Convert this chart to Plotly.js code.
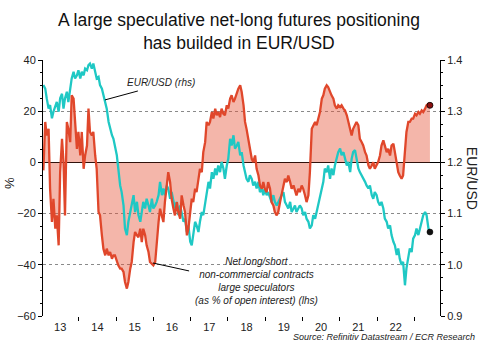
<!DOCTYPE html>
<html><head><meta charset="utf-8">
<script src="https://cdn.plot.ly/plotly-3.0.1.min.js"></script>
<style>html,body{margin:0;padding:0;background:#fff}#chart{width:490px;height:357px}</style>
</head><body><div id="chart"></div>
<script>
// Dates as decimal years (roughly every 2-3 weeks)
const dates = [
2013.05,2013.10,2013.14,2013.19,2013.23,2013.28,2013.32,2013.37,2013.41,2013.46,2013.50,2013.55,2013.59,2013.63,2013.68,2013.72,2013.77,2013.81,2013.86,2013.90,2013.95,2013.99,2014.04,2014.08,2014.13,2014.17,2014.22,2014.26,2014.30,2014.35,2014.39,2014.44,2014.48,2014.53,2014.57,2014.62,2014.66,2014.71,2014.75,2014.80,2014.84,2014.89,2014.93,2014.97,2015.02,2015.06,2015.11,2015.15,2015.20,2015.24,2015.29,2015.33,2015.38,2015.42,2015.47,
2015.51,2015.56,2015.60,2015.65,2015.69,2015.73,2015.78,2015.82,2015.87,2015.91,2015.96,2016.00,2016.05,2016.09,2016.14,2016.18,2016.23,2016.27,2016.31,2016.36,2016.40,2016.45,2016.49,2016.54,2016.58,2016.63,2016.67,2016.72,2016.76,2016.81,2016.85,2016.90,2016.94,2016.99,2017.03,2017.07,2017.12,2017.16,2017.21,2017.25,2017.30,2017.34,2017.39,2017.43,2017.48,2017.52,2017.57,2017.61,2017.66,2017.70,2017.74,2017.79,2017.83,2017.88,2017.92,2017.97,2018.01,
2018.06,2018.10,2018.15,2018.19,2018.24,2018.28,2018.33,2018.37,2018.42,2018.46,2018.50,2018.55,2018.59,2018.64,2018.68,2018.73,2018.77,2018.82,2018.86,2018.91,2018.95,2018.99,2019.04,2019.08,2019.13,2019.17,2019.22,2019.26,2019.31,2019.35,2019.40,2019.44,2019.49,2019.53,2019.58,2019.62,2019.67,2019.71,2019.76,2019.80,2019.84,2019.89,2019.93,2019.98,2020.02,2020.07,2020.11,2020.16,2020.20,2020.25,2020.29,2020.34,2020.38,2020.43,2020.47,2020.52,2020.56,
2020.60,2020.65,2020.69,2020.74,2020.78,2020.83,2020.87,2020.92,2020.96,2021.01,2021.05,2021.10,2021.14,2021.19,2021.23,2021.28,2021.32,2021.36,2021.41,2021.45,2021.50,2021.54,2021.59,2021.63,2021.68,2021.72,2021.77,2021.81,2021.86,2021.90,2021.94,2021.99,2022.03,2022.08,2022.12,2022.17,2022.21,2022.26,2022.30,2022.35,2022.39,2022.44,2022.48,2022.53,2022.57,2022.61,2022.66,2022.70,2022.75,2022.79,2022.84,2022.88,2022.93,2022.97,2023.02,2023.06,2023.11,2023.15,2023.20,2023.24,2023.29,2023.33,2023.38,2023.42
];
// Net long/short non-commercial contracts, % of open interest (lhs)
const netLong = [
-3.1,15.8,10.5,13.1,-10.3,-23.3,-14.2,-25.9,-20.7,-32.4,-3.8,9.2,0.1,-20.7,15.8,13.1,7.9,26.2,24.9,15.8,5.3,11.9,2.7,11.9,-2.5,2.7,6.6,21.0,11.9,10.5,11.9,2.7,-2.5,-19.4,-20.7,-28.5,-33.7,-36.3,-33.7,-36.3,-35.0,-37.6,-36.3,-36.3,-38.9,-40.2,-41.5,-41.5,-42.8,-46.7,-49.3,-46.7,-41.5,-38.9,-31.1,
-27.2,-28.5,-29.2,-25.9,-31.1,-25.9,-28.5,-32.4,-35.0,-38.9,-39.6,-40.2,-38.9,-31.1,-23.3,-18.1,-20.7,-23.3,-15.5,-9.0,-3.8,-7.7,-14.2,-18.1,-20.7,-15.5,-19.4,-22.0,-12.9,-16.8,-19.4,-28.5,-25.9,-19.4,-14.2,-15.5,-10.3,-11.6,-5.1,-2.5,-3.8,4.0,7.9,15.8,14.5,15.8,19.7,17.1,21.0,18.4,19.7,17.7,21.0,19.0,18.4,22.3,21.0,
24.9,26.2,23.6,24.9,27.5,28.8,30.1,27.5,22.3,15.8,13.1,9.2,5.3,1.4,0.1,2.7,-2.5,-5.1,-9.0,-10.3,-7.7,-10.3,-11.6,-7.7,-10.3,-15.5,-16.8,-19.4,-20.7,-19.4,-15.5,-12.9,-9.0,-6.4,-7.7,-5.1,-7.7,-10.3,-9.0,-11.6,-12.9,-10.3,-11.6,-9.0,-10.3,-12.9,-15.5,-12.9,-3.8,13.1,14.5,15.8,14.5,17.1,19.7,24.9,26.2,
28.8,30.1,29.4,27.5,26.2,24.9,22.3,21.0,22.3,21.6,22.3,21.0,20.3,18.4,15.8,11.9,10.5,13.1,14.5,15.8,14.5,9.2,7.9,6.6,4.0,2.7,-1.2,-2.5,-1.2,0.1,-2.5,-1.2,0.1,2.7,6.6,8.6,6.6,4.0,5.3,2.7,6.6,7.3,4.0,-1.2,-3.8,-5.1,-6.4,-5.1,4.0,11.9,15.8,15.8,17.1,17.1,19.0,18.4,19.7,19.0,20.3,19.7,21.0,22.3,22.9,22.3
];
// EUR/USD (rhs)
const eurusd = [
1.351,1.344,1.325,1.305,1.312,1.286,1.299,1.312,1.318,1.299,1.325,1.334,1.305,1.325,1.338,1.318,1.344,1.364,1.377,1.364,1.370,1.380,1.364,1.377,1.370,1.383,1.380,1.390,1.393,1.383,1.393,1.377,1.364,1.367,1.351,1.344,1.331,1.318,1.305,1.279,1.266,1.253,1.246,1.233,1.214,1.188,1.155,1.142,1.116,1.071,1.058,1.084,1.103,1.123,1.136,
1.103,1.123,1.097,1.084,1.103,1.123,1.110,1.129,1.116,1.103,1.129,1.110,1.116,1.123,1.136,1.162,1.136,1.149,1.136,1.155,1.149,1.129,1.142,1.123,1.110,1.123,1.097,1.116,1.103,1.084,1.090,1.064,1.077,1.045,1.038,1.058,1.084,1.077,1.064,1.084,1.103,1.097,1.123,1.136,1.162,1.149,1.181,1.168,1.188,1.175,1.194,1.181,1.201,1.188,1.168,1.194,1.207,
1.246,1.233,1.253,1.227,1.233,1.240,1.214,1.220,1.194,1.181,1.168,1.162,1.175,1.168,1.155,1.162,1.149,1.162,1.142,1.149,1.136,1.149,1.136,1.142,1.129,1.123,1.136,1.123,1.116,1.123,1.129,1.136,1.142,1.123,1.116,1.110,1.123,1.103,1.110,1.116,1.103,1.110,1.116,1.110,1.097,1.103,1.090,1.084,1.071,1.077,1.097,1.090,1.103,1.123,1.136,1.149,1.162,
1.188,1.181,1.194,1.168,1.188,1.175,1.194,1.207,1.220,1.227,1.214,1.220,1.207,1.194,1.201,1.181,1.207,1.220,1.224,1.207,1.188,1.181,1.175,1.168,1.162,1.155,1.149,1.155,1.136,1.129,1.142,1.136,1.123,1.116,1.123,1.110,1.090,1.084,1.071,1.077,1.058,1.045,1.038,1.019,1.032,1.012,1.000,1.006,0.960,0.993,1.019,1.032,1.025,1.051,1.058,1.071,1.058,1.071,1.084,1.097,1.103,1.097,1.071,1.064
];
const yearLabelVals = [2013.5,2014.5,2015.5,2016.5,2017.5,2018.5,2019.5,2020.5,2021.5,2022.5];
const yearLabels = ['13','14','15','16','17','18','19','20','21','22'];
const yearBounds = [2014,2015,2016,2017,2018,2019,2020,2021,2022,2023];
const titleText = 'A large speculative net-long futures positioning<br>has builded in EUR/USD';

const RED = '#E0472B', CYAN = '#1FC8C4', FILL = 'rgba(228,80,52,0.42)';
const FONT = '"Liberation Sans", Arial, sans-serif';
const n = dates.length - 1;

const traces = [
  {x: dates, y: netLong, yaxis: 'y', type: 'scatter', mode: 'lines', line: {width: 0, color: RED},
   fill: 'tozeroy', fillcolor: FILL, hoverinfo: 'skip'},
  {x: dates, y: eurusd, yaxis: 'y2', type: 'scatter', mode: 'lines', line: {width: 2.3, color: CYAN}},
  {x: dates, y: netLong, yaxis: 'y3', type: 'scatter', mode: 'lines', line: {width: 2.3, color: RED}},
  {x: [dates[n]], y: [eurusd[n]], yaxis: 'y2', type: 'scatter', mode: 'markers',
   marker: {size: 6, color: '#111', line: {width: 0.5, color: '#000'}}},
  {x: [dates[n]], y: [netLong[n]], yaxis: 'y3', type: 'scatter', mode: 'markers',
   marker: {size: 6, color: '#8a1010', line: {width: 0.8, color: '#000'}}}
];

const layout = {
  width: 490, height: 357,
  margin: {l: 43, r: 50, t: 60, b: 41},
  paper_bgcolor: '#fff', plot_bgcolor: '#fff',
  showlegend: false,
  font: {family: FONT, color: '#222'},
  xaxis: {range: [2013.04, 2023.69], tickmode: 'array', tickvals: yearLabelVals, ticktext: yearLabels,
          ticks: '', showgrid: false, zeroline: false, showline: false,
          tickfont: {size: 11, color: '#222'}, ticklabelstandoff: 3,
          minor: {tickmode: 'array', tickvals: yearBounds, ticks: 'outside', ticklen: 4, tickcolor: '#000', tickwidth: 1, showgrid: false}},
  yaxis: {range: [-60, 40], tickmode: 'array', tickvals: [-60, -40, -20, 0, 20, 40],
          showgrid: true, gridcolor: '#8a8a8a', griddash: 'dot', gridwidth: 1,
          zeroline: true, zerolinecolor: '#000', zerolinewidth: 1,
          showline: true, linecolor: '#000', linewidth: 1,
          ticks: 'outside', ticklen: 4, tickcolor: '#000',
          minor: {dtick: 5, ticks: 'outside', ticklen: 2, tickcolor: '#000', showgrid: false},
          tickfont: {size: 11, color: '#222'}},
  yaxis2: {overlaying: 'y', side: 'right', range: [0.9, 1.4], tickmode: 'array',
           tickvals: [0.9, 1.0, 1.1, 1.2, 1.3, 1.4], tickformat: '.1f',
           showgrid: false, zeroline: false, showline: true, linecolor: '#000', linewidth: 1,
           ticks: 'outside', ticklen: 4, tickcolor: '#000',
           minor: {dtick: 0.025, ticks: 'outside', ticklen: 2, tickcolor: '#000', showgrid: false},
           tickfont: {size: 11, color: '#222'}},
  yaxis3: {overlaying: 'y', range: [-60, 40], visible: false},
  shapes: [
    {type: 'line', xref: 'paper', yref: 'paper', x0: 0.156, y0: 0.844, x1: 0.239, y1: 0.879, line: {color: '#000', width: 1}},
    {type: 'line', xref: 'paper', yref: 'paper', x0: 0.277, y0: 0.207, x1: 0.368, y1: 0.176, line: {color: '#000', width: 1}}
  ],
  annotations: [
    {xref: 'paper', yref: 'paper', x: 0.493, y: 1.113, text: titleText, showarrow: false,
     font: {family: FONT, size: 17.5, color: '#111'}, xanchor: 'center', yanchor: 'middle', align: 'center'},
    {xref: 'paper', yref: 'paper', x: 0.297, y: 0.912, text: '<i>EUR/USD (rhs)</i>', showarrow: false,
     font: {size: 10, color: '#222'}, xanchor: 'center', yanchor: 'middle'},
    {xref: 'paper', yref: 'paper', x: 0.538, y: 0.135,
     text: '<i>Net long/short<br>non-commercial contracts<br>large speculators<br>(as % of open interest) (lhs)</i>',
     showarrow: false, font: {size: 10, color: '#222'}, xanchor: 'center', yanchor: 'middle', align: 'center'},
    {xref: 'paper', yref: 'paper', x: 1.093, y: -0.082, text: '<i>Source: Refinitiv Datastream / ECR Research</i>',
     showarrow: false, font: {size: 9, color: '#222'}, xanchor: 'right', yanchor: 'middle'},
    {xref: 'paper', yref: 'paper', x: -0.083, y: 0.52, text: '%', textangle: -90, showarrow: false,
     font: {size: 13, color: '#222'}, xanchor: 'center', yanchor: 'middle'},
    {xref: 'paper', yref: 'paper', x: 1.081, y: 0.539, text: 'EUR/USD', textangle: 90, showarrow: false,
     font: {size: 14, color: '#222'}, xanchor: 'center', yanchor: 'middle'}
  ]
};

Plotly.newPlot('chart', traces, layout, {staticPlot: true, displayModeBar: false});
</script>
</body></html>
